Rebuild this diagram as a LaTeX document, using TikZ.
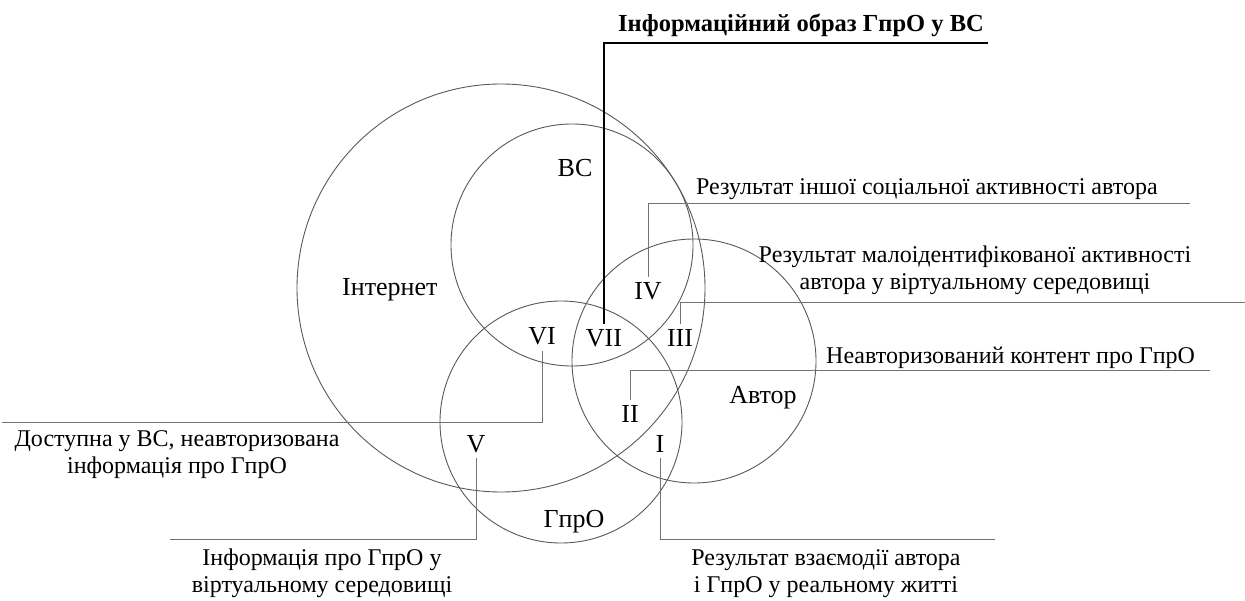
\documentclass[tikz,border=0pt]{standalone}
\usepackage{fontspec}
\setmainfont{Liberation Serif}
\begin{document}
\begin{tikzpicture}[x=1pt,y=-1pt,
  circ/.style={draw=black!65, line width=0.9pt, circle, inner sep=0pt, minimum size=#1},
  lead/.style={draw=black!55, line width=0.9pt},
  boldlead/.style={draw=black, line width=2.4pt},
  rn/.style={inner sep=0pt, outer sep=6pt, anchor=base, font=\fontsize{26}{30}\selectfont},
  lbl/.style={inner sep=0pt, anchor=base, font=\fontsize{26}{30}\selectfont},
  desc/.style={inner sep=0pt, align=center, anchor=base, font=\fontsize{24}{27}\selectfont},
  ]
\useasboundingbox (0,0) rectangle (1245,601);
% circles
\node[circ=408pt] (inet) at (501,288) {};
\node[circ=242pt] (vs) at (572,245) {};
\node[circ=244pt] (avt) at (694,361) {};
\node[circ=242pt] (gpro) at (561,422) {};
% circle labels
\node[lbl, anchor=base west] (linet) at (342,296) {Інтернет};
\node[lbl] (lvs) at (575,177) {ВС};
\node[lbl] (lavt) at (763,404) {Автор};
\node[lbl] (lgpro) at (574,527) {ГпрО};
% region numerals
\node[rn] (IV) at (648,300) {IV};
\node[rn] (VII) at (604,347) {VII};
\node[rn] (III) at (680,347) {III};
\node[rn] (VI) at (542,345) {VI};
\node[rn] (II) at (630,423) {II};
\node[rn] (V) at (476,452) {V};
\node[rn] (I) at (660,452) {I};
% descriptions
\node[desc, anchor=base west] (t4) at (696,195) {Результат іншої соціальної активності автора};
\node[desc] (t3) at (975,290) {Результат малоідентифікованої активності\\автора у віртуальному середовищі};
\node[desc, anchor=base west] (t2) at (826,364) {Неавторизований контент про ГпрО};
\node[desc] (t6) at (177,473) {Доступна у ВС, неавторизована\\інформація про ГпрО};
\node[desc] (t5) at (322,592) {Інформація про ГпрО у\\віртуальному середовищі};
\node[desc] (t1) at (826,592) {Результат взаємодії автора\\і ГпрО у реальному житті};
\node[desc, anchor=base west, font=\fontsize{24.5}{27}\selectfont\bfseries] (t7) at (618,32) {Інформаційний образ ГпрО у ВС};
% leader end points
\coordinate (e4) at (1190,203);
\coordinate (e3) at (1245,302);
\coordinate (e2) at (1210,370);
\coordinate (e6) at (2,422);
\coordinate (e5) at (170,539);
\coordinate (e1) at (995,539);
\coordinate (e7) at (988,43);
% leaders
\draw[lead] (IV.north) |- (e4);
\draw[lead] (III.north) |- (e3);
\draw[lead] (II.north) |- (e2);
\draw[lead] (VI.south) |- (e6);
\draw[lead] (V.south) |- (e5);
\draw[lead] (I.south) |- (e1);
\draw[boldlead] (VII.north) |- (e7);
\end{tikzpicture}
\end{document}
